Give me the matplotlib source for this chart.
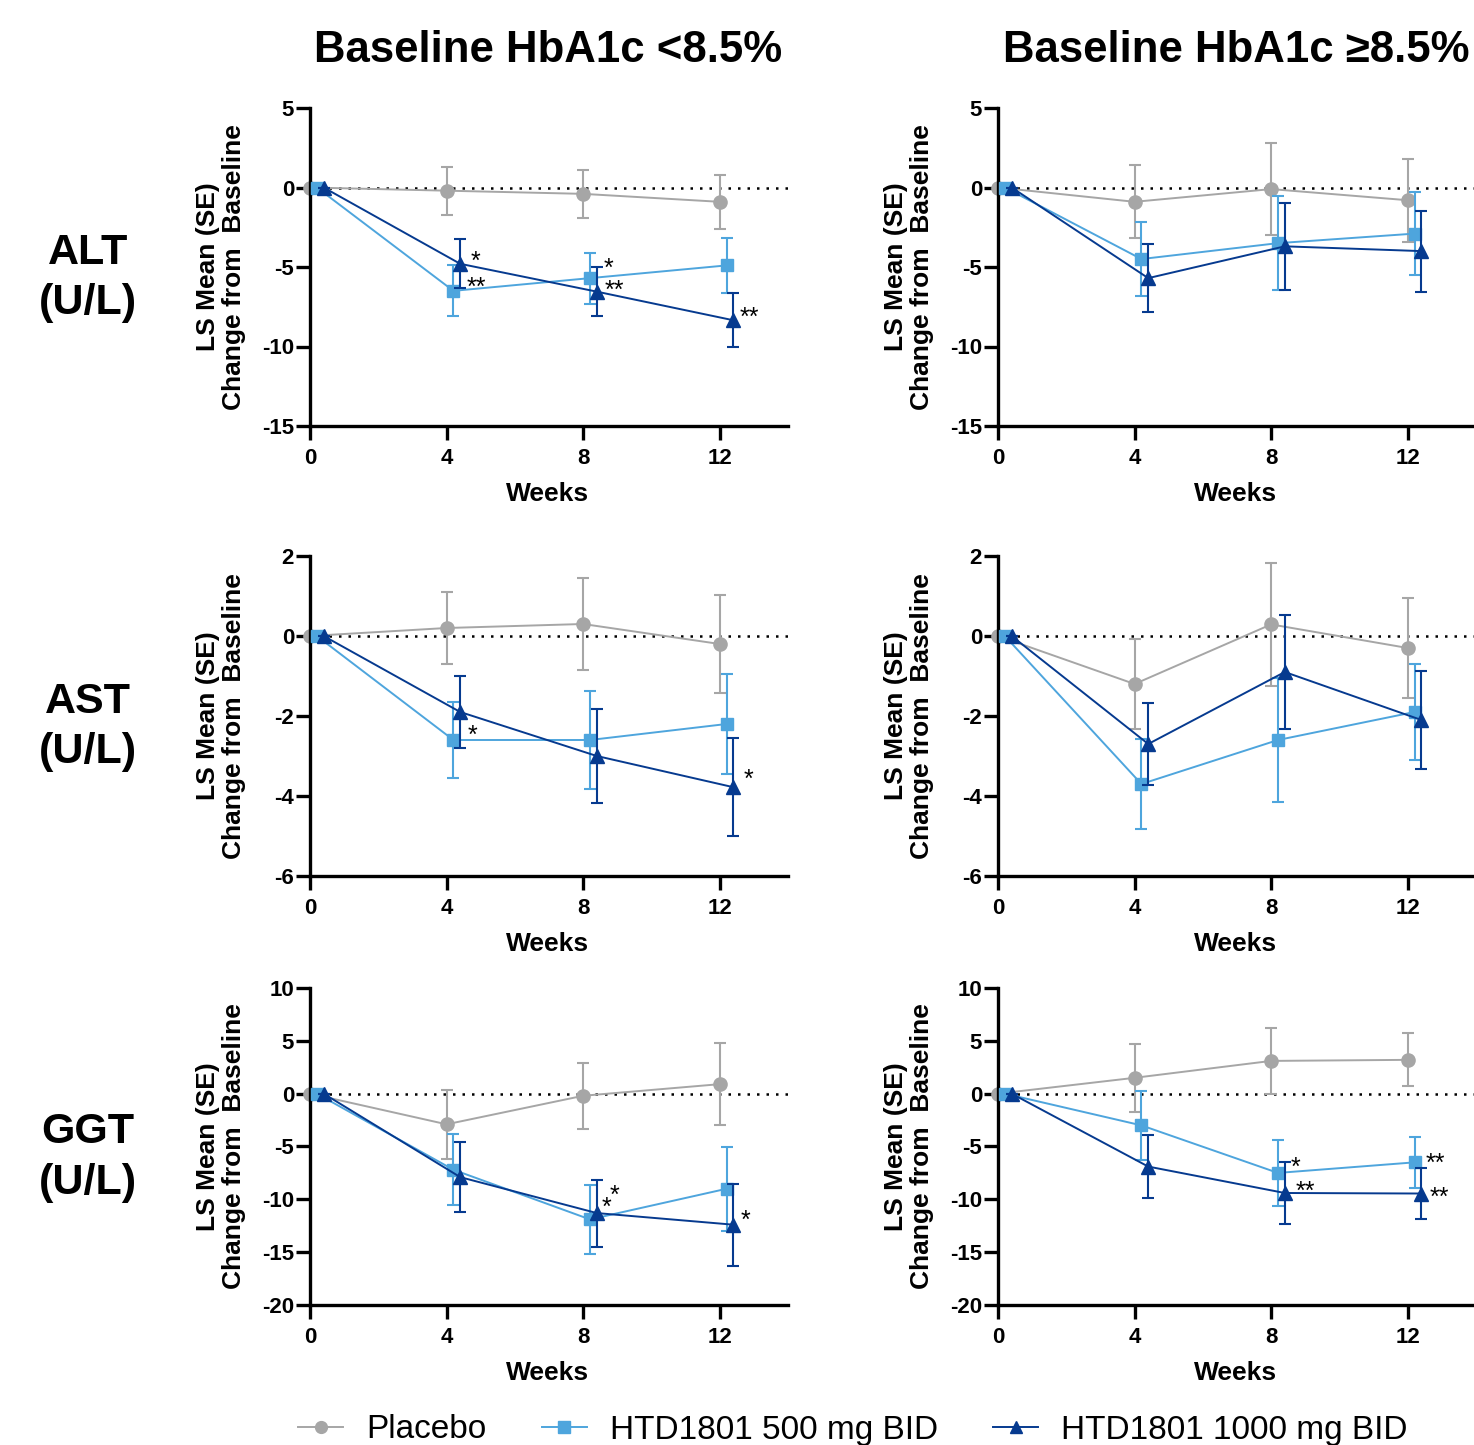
import matplotlib
matplotlib.use("Agg")
import matplotlib.pyplot as plt
from matplotlib.lines import Line2D

plt.rcParams['font.family'] = ['Liberation Sans', 'DejaVu Sans']
plt.rcParams['axes.unicode_minus'] = False

# ---------------- data ----------------
weeks = [0, 4, 8, 12]
groups = ["Placebo", "HTD1801 500 mg BID", "HTD1801 1000 mg BID"]

alt_lo_placebo = [0, -0.2, -0.4, -0.9];   alt_lo_placebo_se = [0, 1.5, 1.5, 1.7]
alt_lo_500 = [0, -6.5, -5.7, -4.9];       alt_lo_500_se = [0, 1.6, 1.6, 1.75]
alt_lo_1000 = [0, -4.8, -6.55, -8.35];    alt_lo_1000_se = [0, 1.55, 1.55, 1.7]

alt_hi_placebo = [0, -0.9, -0.1, -0.8];   alt_hi_placebo_se = [0, 2.3, 2.9, 2.6]
alt_hi_500 = [0, -4.5, -3.5, -2.9];       alt_hi_500_se = [0, 2.3, 2.95, 2.6]
alt_hi_1000 = [0, -5.7, -3.7, -4.0];      alt_hi_1000_se = [0, 2.15, 2.75, 2.55]

ast_lo_placebo = [0, 0.2, 0.3, -0.2];     ast_lo_placebo_se = [0, 0.89, 1.16, 1.22]
ast_lo_500 = [0, -2.6, -2.6, -2.2];       ast_lo_500_se = [0, 0.94, 1.23, 1.25]
ast_lo_1000 = [0, -1.9, -3.0, -3.78];     ast_lo_1000_se = [0, 0.91, 1.18, 1.22]

ast_hi_placebo = [0, -1.2, 0.29, -0.3];   ast_hi_placebo_se = [0, 1.12, 1.53, 1.26]
ast_hi_500 = [0, -3.7, -2.6, -1.9];       ast_hi_500_se = [0, 1.12, 1.54, 1.21]
ast_hi_1000 = [0, -2.7, -0.9, -2.1];      ast_hi_1000_se = [0, 1.02, 1.43, 1.23]

ggt_lo_placebo = [0, -2.9, -0.2, 0.9];    ggt_lo_placebo_se = [0, 3.25, 3.1, 3.87]
ggt_lo_500 = [0, -7.2, -11.9, -9.0];      ggt_lo_500_se = [0, 3.37, 3.29, 3.99]
ggt_lo_1000 = [0, -7.9, -11.3, -12.4];    ggt_lo_1000_se = [0, 3.28, 3.17, 3.89]

ggt_hi_placebo = [0, 1.5, 3.1, 3.2];      ggt_hi_placebo_se = [0, 3.23, 3.13, 2.5]
ggt_hi_500 = [0, -3.0, -7.5, -6.5];       ggt_hi_500_se = [0, 3.25, 3.13, 2.42]
ggt_hi_1000 = [0, -6.9, -9.4, -9.45];     ggt_hi_1000_se = [0, 3.0, 2.97, 2.4]

# significance marks: (text, x, y)
alt_lo_sig = [("*", 4.85, -4.34), ("**", 4.88, -5.97), ("*", 8.74, -4.78),
              ("**", 8.91, -6.16), ("**", 12.88, -7.86)]
alt_hi_sig = []
ast_lo_sig = [("*", 4.75, -2.37), ("*", 12.84, -3.46)]
ast_hi_sig = []
ggt_lo_sig = [("*", 8.67, -10.3), ("*", 8.93, -9.19), ("*", 12.75, -11.56)]
ggt_hi_sig = [("*", 8.71, -6.51), ("**", 9.01, -8.79), ("**", 12.82, -6.1),
              ("**", 12.92, -9.36)]

col_titles = ["Baseline HbA1c <8.5%", "Baseline HbA1c \u22658.5%"]
row_labels = ["ALT\n(U/L)", "AST\n(U/L)", "GGT\n(U/L)"]
row_yticks = [[5, 0, -5, -10, -15], [2, 0, -2, -4, -6], [10, 5, 0, -5, -10, -15, -20]]
row_ylims = [(-15, 5), (-6, 2), (-20, 10)]
xticks = [0, 4, 8, 12]

# ---------------- style ----------------
colors = ["#a6a6a6", "#4ea5dd", "#063a8f"]
markers = ["o", "s", "^"]
msizes = [9.5, 9, 9.5]
offsets = [0.0, 0.2, 0.4]

W, H = 1474, 1445
fig = plt.figure(figsize=(W / 100, H / 100), dpi=100)


def px_axes(left, top, right, bottom):
    return fig.add_axes([left / W, 1 - bottom / H, (right - left) / W, (bottom - top) / H])


panels = [
    [(alt_lo_placebo, alt_lo_placebo_se, alt_lo_500, alt_lo_500_se, alt_lo_1000, alt_lo_1000_se, alt_lo_sig),
     (alt_hi_placebo, alt_hi_placebo_se, alt_hi_500, alt_hi_500_se, alt_hi_1000, alt_hi_1000_se, alt_hi_sig)],
    [(ast_lo_placebo, ast_lo_placebo_se, ast_lo_500, ast_lo_500_se, ast_lo_1000, ast_lo_1000_se, ast_lo_sig),
     (ast_hi_placebo, ast_hi_placebo_se, ast_hi_500, ast_hi_500_se, ast_hi_1000, ast_hi_1000_se, ast_hi_sig)],
    [(ggt_lo_placebo, ggt_lo_placebo_se, ggt_lo_500, ggt_lo_500_se, ggt_lo_1000, ggt_lo_1000_se, ggt_lo_sig),
     (ggt_hi_placebo, ggt_hi_placebo_se, ggt_hi_500, ggt_hi_500_se, ggt_hi_1000, ggt_hi_1000_se, ggt_hi_sig)],
]

row_px = [(108, 426), (556, 876), (988, 1305)]
col_px = [(310, 788), (998, 1476)]

for r in range(3):
    top, bot = row_px[r]
    for c in range(2):
        left, right = col_px[c]
        ax = px_axes(left, top, right, bot)
        p_m, p_s, a_m, a_s, b_m, b_s, sig = panels[r][c]
        ax.axhline(0, color="black", lw=1.8, linestyle=(0, (1, 2.8)), zorder=1)
        for g, (m, s) in enumerate([(p_m, p_s), (a_m, a_s), (b_m, b_s)]):
            xs = [w + offsets[g] for w in weeks]
            ax.errorbar(xs, m, yerr=s, color=colors[g], marker=markers[g],
                        markersize=msizes[g], lw=1.4, elinewidth=1.5, capsize=4.6,
                        capthick=1.5, clip_on=False, zorder=2 + g)
        for txt, x, y in sig:
            ax.annotate(txt, (x, y), xytext=(0, -9), textcoords="offset points",
                        ha="center", va="baseline", fontsize=18, color="black")
        ax.set_xlim(0, 14)
        ax.set_ylim(*row_ylims[r])
        ax.set_xticks(xticks)
        ax.set_yticks(row_yticks[r])
        for sp in ["top", "right"]:
            ax.spines[sp].set_visible(False)
        for sp in ["left", "bottom"]:
            ax.spines[sp].set_linewidth(2.4)
        ax.tick_params(direction="out", length=10, width=2.4, labelsize=16)
        ax.tick_params(axis="x", pad=6)
        ax.tick_params(axis="y", pad=1.5)
        for lab in ax.get_xticklabels() + ax.get_yticklabels():
            lab.set_fontweight("bold")
        ax.patch.set_alpha(0)
        # x label
        cx = (left + right - 2) / 2
        fig.text(cx / W, 1 - (bot + 68) / H, "Weeks", ha="center", va="center",
                 fontsize=19, fontweight="bold")
        # y label
        ylx = 221 if c == 0 else 909
        fig.text(ylx / W, 1 - ((top + bot) / 2) / H, "LS Mean (SE)\nChange from  Baseline",
                 rotation=90, ha="center", va="center", multialignment="center",
                 fontsize=19, fontweight="bold", linespacing=1.15)

# column titles
for c, (left, right) in enumerate(col_px):
    fig.text(((left + right - 2) / 2) / W, 1 - 50 / H, col_titles[c], ha="center",
             va="center", fontsize=31.5, fontweight="bold")

# row labels
for r, (top, bot) in enumerate(row_px):
    fig.text(88 / W, 1 - ((top + bot) / 2 + 11) / H, row_labels[r], ha="center",
             va="center", fontsize=31, fontweight="bold", linespacing=1.35)

# legend
handles = [Line2D([], [], color=colors[g], marker=markers[g], markersize=msizes[g] - 1,
                  lw=1.4) for g in range(3)]
fig.legend(handles, groups, loc="center", ncol=3, frameon=False, fontsize=24,
           bbox_to_anchor=(853 / W, 1 - 1430 / H), handlelength=1.35,
           handletextpad=0.7, columnspacing=1.65, borderpad=0, borderaxespad=0)

fig.savefig("out.png", dpi=100)
